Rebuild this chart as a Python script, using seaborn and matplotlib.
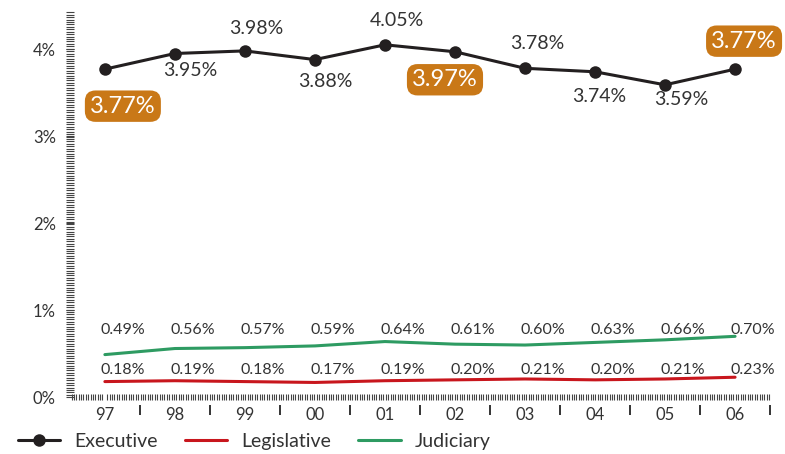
import numpy as np
import pandas as pd
import matplotlib
matplotlib.use("Agg")
import matplotlib.pyplot as plt
from matplotlib.ticker import MultipleLocator, FixedLocator, FuncFormatter
import seaborn as sns

# data (share of spending, %)
years = ["97", "98", "99", "00", "01", "02", "03", "04", "05", "06"]
executive = [3.77, 3.95, 3.98, 3.88, 4.05, 3.97, 3.78, 3.74, 3.59, 3.77]
legislative = [0.18, 0.19, 0.18, 0.17, 0.19, 0.20, 0.21, 0.20, 0.21, 0.23]
judiciary = [0.49, 0.56, 0.57, 0.59, 0.64, 0.61, 0.60, 0.63, 0.66, 0.70]
y_ticks = [0, 1, 2, 3, 4]

EXEC_C = "#231f20"
LEG_C = "#c8161d"
JUD_C = "#2e9b62"
ORANGE = "#c97817"
TXT = "#333333"

# label offsets in pixels for the executive series, and which ones get the orange box
exec_offsets = [(18, -37), (15, -17), (11, 22), (10, -22), (12, 24),
                (-10, -28), (12, 25), (4, -25), (16, -15), (9, 28)]
highlight = [True, False, False, False, False, True, False, False, False, True]

sns.set_theme(style="white")
plt.rcParams["font.family"] = ["Lato", "DejaVu Sans"]

df = pd.DataFrame({
    "pos": np.arange(len(years)),
    "Executive": executive,
    "Legislative": legislative,
    "Judiciary": judiciary,
})

fig = plt.figure(figsize=(7.85, 4.54), dpi=100)
ax = fig.add_axes([0.089, 0.125, 0.892, 0.853])

sns.lineplot(data=df, x="pos", y="Judiciary", ax=ax, color=JUD_C, lw=2.2, label="Judiciary")
sns.lineplot(data=df, x="pos", y="Legislative", ax=ax, color=LEG_C, lw=2.2, label="Legislative")
sns.lineplot(data=df, x="pos", y="Executive", ax=ax, color=EXEC_C, lw=2.2,
             marker="o", markersize=9, markeredgewidth=0, label="Executive")

ax.set_xlim(-0.5, 9.5)
ax.set_ylim(0, 4.45)
ax.set_xlabel("")
ax.set_ylabel("")
for s in ax.spines.values():
    s.set_visible(False)

# dense hatched axis bars
ax.xaxis.set_major_locator(FixedLocator(df["pos"]))
ax.set_xticklabels(years)
ax.xaxis.set_minor_locator(MultipleLocator(0.034))
ax.yaxis.set_major_locator(FixedLocator(y_ticks))
ax.yaxis.set_major_formatter(FuncFormatter(lambda v, p: f"{v:.0f}%"))
ax.yaxis.set_minor_locator(MultipleLocator(0.028))
ax.tick_params(axis="x", which="both", bottom=True)
ax.tick_params(axis="y", which="both", left=True)
ax.tick_params(axis="x", which="major", length=0, pad=7, labelsize=12, labelcolor=TXT)
ax.tick_params(axis="x", which="minor", direction="inout", length=5, width=0.8, color="#444444")
ax.tick_params(axis="y", which="both", direction="inout", length=6, width=0.8, color="#444444")
ax.tick_params(axis="y", which="major", pad=7, labelsize=12, labelcolor=TXT)

# year separators below the axis
trans = ax.get_xaxis_transform()
bounds = df["pos"].to_numpy() + 0.5
ax.vlines(bounds, -0.02, -0.045, transform=trans, colors="#333333", lw=1.4, clip_on=False)

# executive labels
for i, v in enumerate(executive):
    dx, dy = exec_offsets[i]
    if highlight[i]:
        ax.annotate(f"{v:.2f}%", (i, v), xytext=(dx * 0.72, dy * 0.72), textcoords="offset points",
                    ha="center", va="center", fontsize=17, color="white",
                    bbox=dict(boxstyle="round,pad=0.22,rounding_size=0.45", fc=ORANGE, ec="none"))
    else:
        ax.annotate(f"{v:.2f}%", (i, v), xytext=(dx * 0.72, dy * 0.72), textcoords="offset points",
                    ha="center", va="center", fontsize=14, color=TXT)

# small series labels sit on a fixed row above each line
for i, v in enumerate(judiciary):
    ax.text(i + 0.25, 0.77, f"{v:.2f}%", ha="center", va="center", fontsize=11.5, color=TXT)
for i, v in enumerate(legislative):
    ax.text(i + 0.25, 0.31, f"{v:.2f}%", ha="center", va="center", fontsize=11.5, color=TXT)

handles, labels = ax.get_legend_handles_labels()
order = [labels.index(n) for n in ["Executive", "Legislative", "Judiciary"]]
ax.get_legend().remove()
fig.legend([handles[k] for k in order], [labels[k] for k in order],
           loc="lower left", bbox_to_anchor=(0.0, -0.03), ncol=3, frameon=False,
           fontsize=14, handlelength=2.2, handletextpad=0.7, columnspacing=1.4,
           labelcolor=TXT)

fig.savefig("out.png", dpi=100)
